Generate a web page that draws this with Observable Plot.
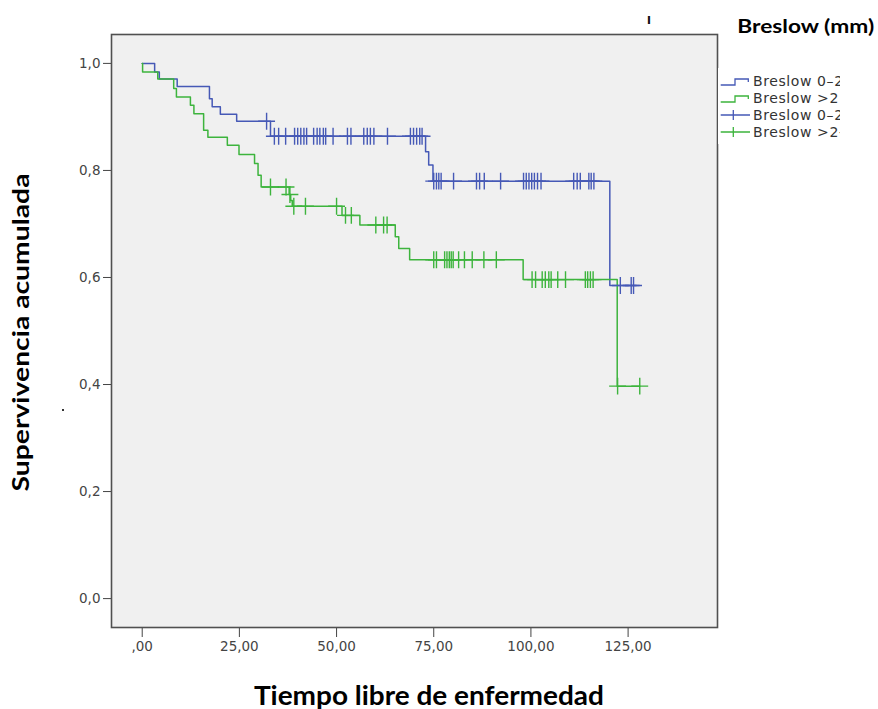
<!DOCTYPE html>
<html><head><meta charset="utf-8">
<script src="https://cdn.jsdelivr.net/npm/d3@7"></script>
<script src="https://cdn.jsdelivr.net/npm/@observablehq/plot@0.6"></script>
<style>
body{margin:0;background:#fff;}
#wrap{position:relative;width:878px;height:709px;overflow:hidden;background:#fff;}
#chart{position:absolute;left:0;top:0;}
.ttl{position:absolute;font-family:Lato,"Open Sans",sans-serif;font-weight:700;color:#000;white-space:nowrap;line-height:1;transform-origin:center center;}
#legend{position:absolute;left:718px;top:68px;width:122px;height:76px;overflow:hidden;background:#fff;}
#mark1{position:absolute;left:647px;top:9px;font-family:Lato,sans-serif;font-weight:900;font-size:15px;color:#111;}
#dot{position:absolute;left:62px;top:409px;width:2px;height:2px;background:#333;}
</style></head><body>
<div id="wrap">
  <div id="chart"></div>
  <div class="ttl" id="ytitle">Supervivencia acumulada</div>
  <div class="ttl" id="xtitle">Tiempo libre de enfermedad</div>
  <div class="ttl" id="ltitle">Breslow (mm)</div>
  <div id="legend"></div>
  <div id="mark1">ı</div>
  <div id="dot"></div>
</div>
<script>
// ---- data ----
const seriesNames = ["Breslow 0–2", "Breslow >2"];
const legendLabels = ["Breslow 0–2", "Breslow >2", "Breslow 0–2-censurado", "Breslow >2-censurado"];
const seriesColors = ["#4659b6", "#3db43d"];

const xTicks = [0, 25, 50, 75, 100, 125];
const xTickLabels = [",00", "25,00", "50,00", "75,00", "100,00", "125,00"];
const yTicks = [0, 0.2, 0.4, 0.6, 0.8, 1.0];
const yTickLabels = ["0,0", "0,2", "0,4", "0,6", "0,8", "1,0"];

// Breslow 0-2 : step points (time, cumulative survival)
const blueTimes = [0, 3.2, 4.4, 9.0, 17.3, 18.0, 20.1, 24.3, 33.0, 72.9, 73.7, 74.8, 120.3, 127.1];
const blueSurv  = [1.0, 0.984, 0.971, 0.957, 0.934, 0.919, 0.905, 0.892, 0.864, 0.835, 0.810, 0.780, 0.585, 0.585];
const blueCensor = [32.0, 34.0, 35.1, 36.9, 39.2, 40.0, 40.8, 41.6, 42.3, 44.1, 45.0, 45.7, 46.6, 47.2, 49.1,
  52.8, 53.7, 57.0, 57.9, 58.7, 59.6, 63.1, 69.0, 69.8, 70.6, 71.4, 72.0,
  75.0, 75.7, 76.3, 76.9, 80.1, 86.0, 86.8, 88.0, 92.2, 98.1, 98.8, 99.5, 100.2, 100.9, 101.7, 102.6,
  111.0, 111.9, 112.7, 114.9, 115.5, 116.2, 123.0, 125.8, 126.4];

// Breslow >2
const greenTimes = [0, 0.1, 4.0, 8.1, 8.8, 12.4, 13.3, 15.8, 16.9, 21.9, 24.9, 28.9, 29.8, 30.6, 37.8, 38.2, 38.6,
  51.4, 56.0, 65.1, 66.0, 68.8, 98.0, 122.2, 128.0];
const greenSurv  = [1.0, 0.984, 0.971, 0.953, 0.937, 0.922, 0.906, 0.875, 0.862, 0.847, 0.830, 0.813, 0.791, 0.769, 0.755, 0.744, 0.733,
  0.716, 0.698, 0.676, 0.654, 0.633, 0.596, 0.397, 0.397];
const greenCensor = [33.0, 37.0, 38.0, 39.0, 42.0, 50.0, 52.3, 53.8, 60.1, 62.1, 63.0,
  75.0, 75.7, 77.8, 78.4, 79.0, 79.5, 80.0, 81.4, 82.9, 84.9, 87.9, 91.1,
  100.3, 101.2, 102.9, 103.7, 104.6, 105.2, 106.9, 108.9, 114.0, 114.6, 115.3, 116.0, 122.3, 128.0];

// ---- build tables ----
function stepTable(times, surv, name) { return times.map((t, i) => ({t, s: surv[i], g: name})); }
function survAt(times, surv, t) { let v = surv[0]; for (let i = 0; i < times.length; i++) if (times[i] <= t) v = surv[i]; return v; }
function censorTable(ct, times, surv, name) { return ct.map(t => ({t, s: survAt(times, surv, t), g: name})); }

const curves = [...stepTable(blueTimes, blueSurv, seriesNames[0]), ...stepTable(greenTimes, greenSurv, seriesNames[1])];
const censored = [...censorTable(blueCensor, blueTimes, blueSurv, seriesNames[0]), ...censorTable(greenCensor, greenTimes, greenSurv, seriesNames[1])];

const chart = Plot.plot({
  width: 878, height: 709,
  marginLeft: 111, marginRight: 161, marginTop: 34, marginBottom: 82,
  style: {fontFamily: "DejaVu Sans, sans-serif", fontSize: "13.5px", color: "#444", background: "transparent"},
  x: {domain: [-7.9, 148.0], ticks: xTicks, tickFormat: d => xTickLabels[xTicks.indexOf(d)], tickSize: 10, tickPadding: 4, label: null},
  y: {domain: [-0.054, 1.054], ticks: yTicks, tickFormat: d => yTickLabels[yTicks.findIndex(v => Math.abs(v - d) < 1e-9)], tickSize: 8, tickPadding: 3, label: null},
  color: {domain: seriesNames, range: seriesColors},
  marks: [
    Plot.frame({fill: "#f0f0f0", stroke: "none"}),
    Plot.line(curves, {x: "t", y: "s", z: "g", stroke: "g", curve: "step-after", strokeWidth: 1.5}),
    Plot.dot(censored, {x: "t", y: "s", stroke: "g", symbol: "plus", r: 5.5, strokeWidth: 1.4}),
    Plot.frame({stroke: "#505050", strokeWidth: 1.6})
  ]
});
document.getElementById("chart").appendChild(chart);

// ---- titles: fit to measured extents of the reference ----
function fit(id, fontSize, targetW, cx, cy, rot) {
  const el = document.getElementById(id);
  el.style.fontSize = fontSize + "px";
  const w = el.getBoundingClientRect().width, h = el.getBoundingClientRect().height;
  const sx = targetW / w;
  el.style.left = (cx - w / 2) + "px";
  el.style.top = (cy - h / 2) + "px";
  el.style.transform = (rot ? "rotate(-90deg) " : "") + "scaleX(" + sx + ")";
}
fit("ytitle", 23, 318, 20, 332, true);
fit("xtitle", 27, 350, 429, 694, false);
fit("ltitle", 19.5, 137, 806, 26, false);

// ---- legend ----
const ns = "http://www.w3.org/2000/svg";
const lsvg = document.createElementNS(ns, "svg");
lsvg.setAttribute("width", 122); lsvg.setAttribute("height", 76);
legendLabels.forEach((lab, i) => {
  const yc = 13 + i * 17;
  const col = seriesColors[i % 2];
  if (i < 2) {
    const p = document.createElementNS(ns, "polyline");
    p.setAttribute("points", `2.7,${yc+4} 17,${yc+4} 17,${yc-2} 30.3,${yc-2} 30.3,${yc+1}`);
    p.setAttribute("fill", "none"); p.setAttribute("stroke", col); p.setAttribute("stroke-width", 1.3);
    lsvg.appendChild(p);
  } else {
    const p = document.createElementNS(ns, "path");
    p.setAttribute("d", `M2.7,${yc}H32M15.3,${yc-5}V${yc+5}`);
    p.setAttribute("fill", "none"); p.setAttribute("stroke", col); p.setAttribute("stroke-width", 1.3);
    lsvg.appendChild(p);
  }
  const t = document.createElementNS(ns, "text");
  t.setAttribute("x", 35); t.setAttribute("y", yc + 5);
  t.setAttribute("font-family", "DejaVu Sans, sans-serif"); t.setAttribute("font-size", 14);
  t.setAttribute("letter-spacing", "0.6"); t.setAttribute("fill", "#333");
  t.textContent = lab;
  lsvg.appendChild(t);
});
document.getElementById("legend").appendChild(lsvg);
</script>
</body></html>
